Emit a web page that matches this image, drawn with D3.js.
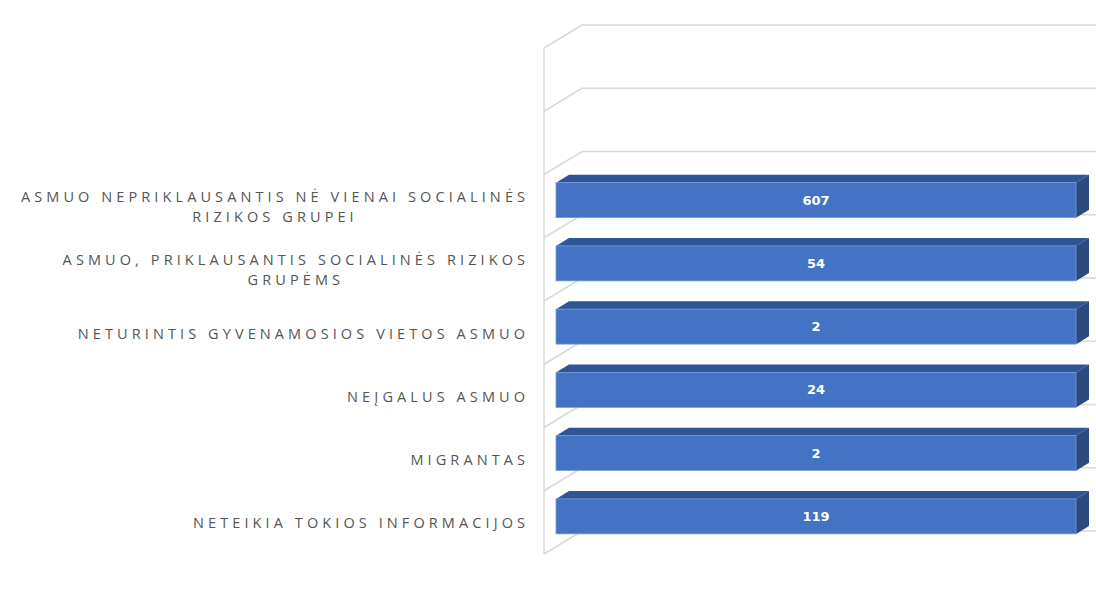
<!DOCTYPE html>
<html>
<head>
<meta charset="utf-8">
<script src="https://cdn.jsdelivr.net/npm/d3@7"></script>
<style>
  body { margin: 0; background: #fff; }
</style>
</head>
<body>
<div id="chart"></div>
<script>
// categories top to bottom, each one split into lines as on the axis
const categories = [
  ["ASMUO NEPRIKLAUSANTIS NĖ VIENAI SOCIALINĖS", "RIZIKOS GRUPEI"],
  ["ASMUO, PRIKLAUSANTIS SOCIALINĖS RIZIKOS", "GRUPĖMS"],
  ["NETURINTIS GYVENAMOSIOS VIETOS ASMUO"],
  ["NEĮGALUS ASMUO"],
  ["MIGRANTAS"],
  ["NETEIKIA TOKIOS INFORMACIJOS"]
];
const values = [607, 54, 2, 24, 2, 119];
const slotCount = 8; // axis has two empty slots above the categories

const svg = d3.select('#chart')
  .append('svg')
  .attr('width', 1096)
  .attr('height', 601);

const wallX = 544,
      depth = { dx: 38, dy: -23 },     // floor/wall depth
      barDepth = { dx: 13, dy: -8 },   // bar top/side depth
      barH = 35;

// slot scale on the back plane (0 = bottom)
const yBack = d3.scaleLinear().domain([0, slotCount]).range([531, 25]);
// 100% stacked: each bar is its own total
const x = d3.scaleLinear().domain([0, 100]).range([556, 1076]);

const rows = categories.map((lines, i) => ({
  lines,
  value: values[i],
  share: values[i] / values[i] * 100,
  slot: categories.length - 1 - i
}));

// wall and gridlines
const grid = svg.append('g')
  .attr('fill', 'none')
  .attr('stroke', '#d9d9d9')
  .attr('stroke-width', 1.5);

grid.append('line')
  .attr('x1', wallX).attr('x2', wallX)
  .attr('y1', yBack(slotCount) - depth.dy)
  .attr('y2', yBack(0) - depth.dy);

grid.selectAll('path.gl')
  .data(d3.range(slotCount + 1))
  .join('path')
  .attr('class', 'gl')
  .attr('d', i => {
    const yb = yBack(i);
    return `M${wallX},${yb - depth.dy}L${wallX + depth.dx},${yb}L1096,${yb}`;
  });

// bars
const bars = svg.selectAll('g.bar')
  .data(rows)
  .join('g')
  .attr('class', 'bar');

const frontTop = d => yBack(d.slot + 0.5) + 17 - barH / 2;

bars.append('path')
  .attr('fill', '#2f5597')
  .attr('d', d => {
    const y0 = frontTop(d), x0 = x(0), x1 = x(d.share);
    return `M${x0},${y0}L${x0 + barDepth.dx},${y0 + barDepth.dy}L${x1 + barDepth.dx},${y0 + barDepth.dy}L${x1},${y0}Z`;
  });

bars.append('path')
  .attr('fill', '#2a4a80')
  .attr('d', d => {
    const y0 = frontTop(d), x1 = x(d.share);
    return `M${x1},${y0}L${x1 + barDepth.dx},${y0 + barDepth.dy}L${x1 + barDepth.dx},${y0 + barH + barDepth.dy}L${x1},${y0 + barH}Z`;
  });

bars.append('rect')
  .attr('x', x(0))
  .attr('y', d => frontTop(d))
  .attr('width', d => x(d.share) - x(0))
  .attr('height', barH)
  .attr('fill', '#4472c4')
  .attr('stroke', '#7b9bd6')
  .attr('stroke-width', 0.8);

// value labels
bars.append('text')
  .attr('x', d => (x(0) + x(d.share)) / 2)
  .attr('y', d => frontTop(d) + barH / 2)
  .attr('dy', '0.35em')
  .attr('text-anchor', 'middle')
  .style('font-family', 'DejaVu Sans, sans-serif')
  .style('font-weight', 'bold')
  .style('font-size', '13px')
  .style('fill', '#ffffff')
  .text(d => d.value);

// category labels
const spacing = 4.1;
const labels = svg.selectAll('g.cat')
  .data(rows)
  .join('g')
  .attr('class', 'cat')
  .style('font-family', '"Open Sans", sans-serif')
  .style('font-size', '14.5px')
  .style('letter-spacing', spacing + 'px')
  .style('fill', '#555555');

labels.each(function(d) {
  const g = d3.select(this);
  const cy = yBack(d.slot + 0.5) - depth.dy + 1;
  const n = d.lines.length;
  const lineH = 20;
  const texts = g.selectAll('text')
    .data(d.lines)
    .join('text')
    .attr('y', (t, j) => cy + (j - (n - 1) / 2) * lineH)
    .attr('dy', '0.35em')
    .text(t => t);
  // block right-aligned at 525, lines centred within block
  const widths = texts.nodes().map(t => t.getComputedTextLength());
  const w = d3.max(widths);
  const right = 525 + spacing;
  texts.attr('x', (t, j) => right - w + (w - widths[j]) / 2);
});
</script>
</body>
</html>
